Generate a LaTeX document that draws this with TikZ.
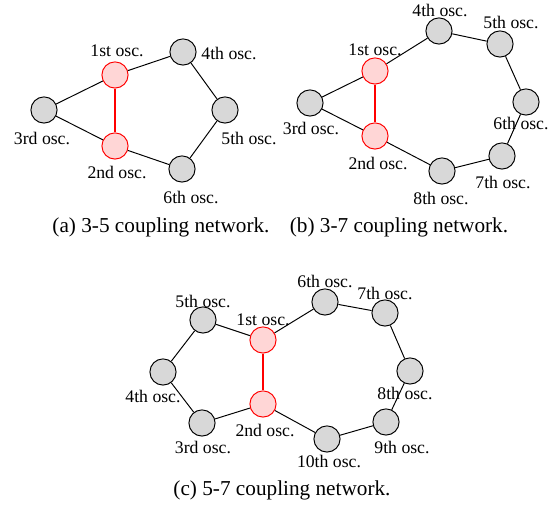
\documentclass[tikz,border=0pt]{standalone}
\usepackage{fontspec}
\setmainfont{Liberation Serif}
\usepackage{xcolor}
\definecolor{oscgray}{RGB}{216,216,216}
\definecolor{oscpink}{RGB}{255,214,214}
\tikzset{
  osc/.style={draw,circle,fill=oscgray,minimum size=14.8pt,inner sep=0pt},
  rosc/.style={osc,draw=red,fill=oscpink},
  rlink/.style={draw=red,line width=0.8pt},
  lab/.style={inner sep=0pt,font=\fontsize{10}{12}\selectfont},
  capt/.style={inner sep=0pt,font=\fontsize{12}{14}\selectfont},
}
\begin{document}
\begin{tikzpicture}[x=0.565pt,y=-0.565pt,line width=0.55pt]
  \useasboundingbox (0,0) rectangle (552,506);
  % (a) 3-5
  \node[rosc] (a1) at (115,75) {};
  \node[rosc] (a2) at (115,146) {};
  \node[osc] (a3) at (44,110) {};
  \node[osc] (a4) at (183,52) {};
  \node[osc] (a5) at (225,110) {};
  \node[osc] (a6) at (182,169) {};
  \node[lab] (a1l) at (117,51) {1st osc.};
  \node[lab] (a2l) at (117,172) {2nd osc.};
  \node[lab] (a3l) at (42,138) {3rd osc.};
  \node[lab] (a4l) at (229,53) {4th osc.};
  \node[lab] (a5l) at (249,138) {5th osc.};
  \node[lab] (a6l) at (191,197) {6th osc.};
  \node[capt] (acap) at (161,227) {(a) 3-5 coupling network.};

  \draw[rlink] (a1) -- (a2);
  \draw (a1) -- (a3);
  \draw (a3) -- (a2);
  \draw (a1) -- (a4);
  \draw (a4) -- (a5);
  \draw (a5) -- (a6);
  \draw (a6) -- (a2);

  % (b) 3-7
  \node[rosc] (b1) at (375,71) {};
  \node[rosc] (b2) at (375,136) {};
  \node[osc] (b3) at (310,103) {};
  \node[osc] (b4) at (439,31) {};
  \node[osc] (b5) at (500,44) {};
  \node[osc] (b6) at (526,102) {};
  \node[osc] (b7) at (502,156) {};
  \node[osc] (b8) at (442,171) {};
  \node[lab] (b1l) at (375,50) {1st osc.};
  \node[lab] (b2l) at (378,163) {2nd osc.};
  \node[lab] (b3l) at (311,128) {3rd osc.};
  \node[lab] (b4l) at (440,10) {4th osc.};
  \node[lab] (b5l) at (511,22) {5th osc.};
  \node[lab] (b6l) at (521,123) {6th osc.};
  \node[lab] (b7l) at (503,182) {7th osc.};
  \node[lab] (b8l) at (441,198) {8th osc.};
  \node[capt] (bcap) at (399,227) {(b) 3-7 coupling network.};

  \draw[rlink] (b1) -- (b2);
  \draw (b1) -- (b3);
  \draw (b3) -- (b2);
  \draw (b1) -- (b4);
  \draw (b4) -- (b5);
  \draw (b5) -- (b6);
  \draw (b6) -- (b7);
  \draw (b7) -- (b8);
  \draw (b8) -- (b2);

  % (c) 5-7
  \node[rosc] (c1) at (263,340) {};
  \node[rosc] (c2) at (263,404) {};
  \node[osc] (c3) at (202,423) {};
  \node[osc] (c4) at (163,372) {};
  \node[osc] (c5) at (203,320) {};
  \node[osc] (c6) at (325,302) {};
  \node[osc] (c7) at (385,313) {};
  \node[osc] (c8) at (410,371) {};
  \node[osc] (c9) at (386,422) {};
  \node[osc] (c10) at (327,439) {};
  \node[lab] (c1l) at (263,320) {1st osc.};
  \node[lab] (c2l) at (265,430) {2nd osc.};
  \node[lab] (c3l) at (203,447) {3rd osc.};
  \node[lab] (c4l) at (153,396) {4th osc.};
  \node[lab] (c5l) at (203,301) {5th osc.};
  \node[lab] (c6l) at (325,281) {6th osc.};
  \node[lab] (c7l) at (385,293) {7th osc.};
  \node[lab] (c8l) at (405,393) {8th osc.};
  \node[lab] (c9l) at (402,447) {9th osc.};
  \node[lab] (c10l) at (329,461) {10th osc.};
  \node[capt] (ccap) at (282,490) {(c) 5-7 coupling network.};

  \draw[rlink] (c1) -- (c2);
  \draw (c1) -- (c5);
  \draw (c5) -- (c4);
  \draw (c4) -- (c3);
  \draw (c3) -- (c2);
  \draw (c1) -- (c6);
  \draw (c6) -- (c7);
  \draw (c7) -- (c8);
  \draw (c8) -- (c9);
  \draw (c9) -- (c10);
  \draw (c10) -- (c2);
\end{tikzpicture}
\end{document}
